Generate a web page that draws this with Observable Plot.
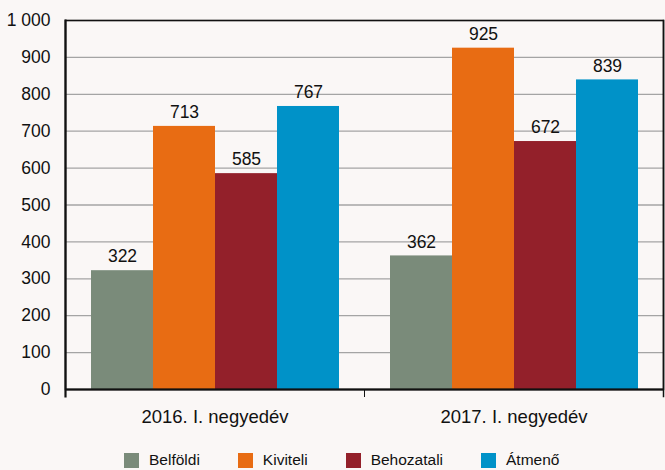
<!DOCTYPE html>
<html>
<head>
<meta charset="utf-8">
<script src="https://cdn.jsdelivr.net/npm/d3@7"></script>
<script src="https://cdn.jsdelivr.net/npm/@observablehq/plot@0.6"></script>
<style>
  html, body { margin: 0; padding: 0; background: #faf7f6; }
  #chart { width: 665px; height: 470px; overflow: hidden; font-family: "Liberation Sans", Arial, sans-serif; }
  .lg-swatches { font-family: "Liberation Sans", Arial, sans-serif !important; font-size: 15.5px !important; color: #111; margin: 10px 0 0 124px !important; min-height: 0 !important; line-height: 20px; }
  .lg-swatch { margin-right: 38px !important; }
  .lg-swatch svg { margin-right: 10px !important; }
  g.fxlab { font-family: "Liberation Sans", Arial, sans-serif !important; font-size: 18.5px !important; }
</style>
</head>
<body>
<div id="chart"></div>
<script>
const groups = ["2016. I. negyedév", "2017. I. negyedév"];
const series = ["Belföldi", "Kiviteli", "Behozatali", "Átmenő"];
const values2016 = [322, 713, 585, 767];
const values2017 = [362, 925, 672, 839];
const colors = ["#7a8b7a", "#e86c13", "#93202a", "#0092c8"];
const yTicks = [0, 100, 200, 300, 400, 500, 600, 700, 800, 900, 1000];

const rows = [];
[values2016, values2017].forEach((vals, gi) => {
  vals.forEach((v, si) => rows.push({group: groups[gi], series: series[si], value: v}));
});

const fmt = d => d3.format(",")(d).replace(/,/g, " ");

const plot = Plot.plot({
  width: 665,
  height: 440,
  marginLeft: 65,
  marginRight: 2,
  marginTop: 20,
  marginBottom: 51,
  style: {background: "#faf7f6", fontFamily: "Liberation Sans, Arial, sans-serif", fontSize: "17.5px", color: "#111"},
  fx: {domain: groups, padding: 0, label: null, axis: null},
  x: {domain: series, paddingInner: 0, paddingOuter: 0.4, axis: null},
  y: {domain: [0, 1000], ticks: yTicks, tickFormat: fmt, tickSize: 0, tickPadding: 15, label: null},
  color: {domain: series, range: colors},
  marks: [
    Plot.gridY(yTicks, {stroke: "#a4a4a4", strokeOpacity: 1, strokeWidth: 1.3}),
    Plot.barY(rows, {fx: "group", x: "series", y: "value", fill: "series"}),
    Plot.text(rows, {fx: "group", x: "series", y: "value", text: d => String(d.value), dy: -14, fontSize: 17.5, fill: "#111"}),
    Plot.axisFx({anchor: "bottom", tickSize: 0, tickPadding: 20, label: null, fontSize: 18.5, className: "fxlab"}),
    Plot.frame({facet: "super", stroke: "#111", strokeWidth: 1.5}),
    Plot.frame({anchor: "left", stroke: "#111", strokeWidth: 1, insetTop: 369, insetBottom: -7}),
    Plot.frame({facet: "super", anchor: "left", stroke: "#111", strokeWidth: 2.2, insetBottom: -7}),
    Plot.frame({facet: "super", anchor: "right", stroke: "#111", strokeWidth: 1.5, insetBottom: -7}),
    Plot.ruleY([0], {stroke: "#111", strokeWidth: 2.2})
  ]
});

const chart = document.getElementById("chart");
chart.appendChild(plot);
const legend = plot.legend("color", {swatchSize: 15, className: "lg"});
chart.appendChild(legend);
</script>
</body>
</html>
